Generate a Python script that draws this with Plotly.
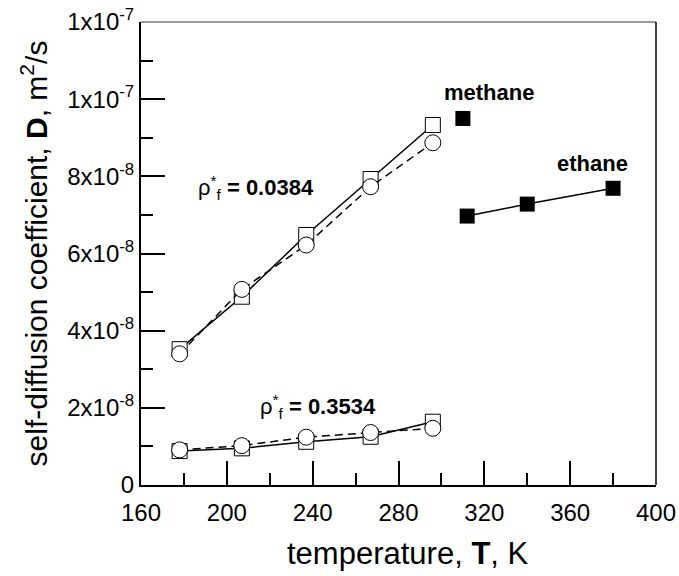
import plotly.graph_objects as go

# ---- data ----
T_fluid = [178, 207, 237, 267, 296]
D_square_0384 = [3.52e-8, 4.88e-8, 6.48e-8, 7.93e-8, 9.33e-8]
D_circle_0384 = [3.40e-8, 5.07e-8, 6.22e-8, 7.73e-8, 8.87e-8]
D_square_3534 = [0.88e-8, 0.95e-8, 1.12e-8, 1.25e-8, 1.64e-8]
D_circle_3534 = [0.91e-8, 1.02e-8, 1.24e-8, 1.36e-8, 1.47e-8]
T_methane = [310]
D_methane = [9.50e-8]
T_ethane = [312, 340, 380]
D_ethane = [6.97e-8, 7.28e-8, 7.69e-8]

x_tick_vals = [160, 200, 240, 280, 320, 360, 400]
y_tick_vals = [0, 2e-8, 4e-8, 6e-8, 8e-8, 1e-7, 1.2e-7]
y_tick_text = ["0", "2x10<sup>-8</sup>", "4x10<sup>-8</sup>", "6x10<sup>-8</sup>",
               "8x10<sup>-8</sup>", "1x10<sup>-7</sup>", "1x10<sup>-7</sup>"]

FONT = "Liberation Sans, Arial, sans-serif"

fig = go.Figure()

def open_series(x, y, symbol, dash, size):
    fig.add_trace(go.Scatter(
        x=x, y=y, mode="lines+markers",
        line=dict(color="black", width=1.5, dash=dash),
        marker=dict(symbol=symbol, size=size, color="white",
                    line=dict(color="black", width=1)),
        showlegend=False, cliponaxis=False))

open_series(T_fluid, D_square_0384, "square", "solid", 15)
open_series(T_fluid, D_square_3534, "square", "solid", 15)
open_series(T_fluid, D_circle_0384, "circle", "8px,5px", 16)
open_series(T_fluid, D_circle_3534, "circle", "8px,5px", 16)

fig.add_trace(go.Scatter(
    x=T_methane, y=D_methane, mode="markers",
    marker=dict(symbol="square", size=15, color="black"),
    showlegend=False))
fig.add_trace(go.Scatter(
    x=T_ethane, y=D_ethane, mode="lines+markers",
    line=dict(color="black", width=1.5),
    marker=dict(symbol="square", size=15, color="black"),
    showlegend=False))

ann_font = dict(family=FONT, size=22, color="black")
annotations = [
    dict(x=213.5, y=7.70e-8, text="ρ<sup>*</sup><sub>f</sub> <b>= 0.0384</b>"),
    dict(x=242.5, y=2.03e-8, text="ρ<sup>*</sup><sub>f</sub> <b>= 0.3534</b>"),
    dict(x=322, y=1.017e-7, text="<b>methane</b>"),
    dict(x=370.5, y=8.34e-8, text="<b>ethane</b>"),
]
for a in annotations:
    a.update(xref="x", yref="y", showarrow=False, font=ann_font,
             xanchor="center", yanchor="middle")

# x-axis title (slightly right of centre, as in the reference)
annotations.append(dict(
    xref="paper", yref="paper", x=0.518, y=0, yshift=-68,
    xanchor="center", yanchor="middle", showarrow=False,
    text="temperature, <b>T</b>, K", font=dict(size=31, family=FONT, color="black")))

fig.update_layout(
    width=679, height=576,
    margin=dict(l=141, r=23, t=22, b=91),
    paper_bgcolor="white", plot_bgcolor="white",
    font=dict(family=FONT, color="black"),
    annotations=annotations,
    shapes=[
        dict(type="line", xref="paper", yref="paper", x0=0, x1=1, y0=1, y1=1,
             line=dict(color="#777777", width=1.5)),
        dict(type="line", xref="paper", yref="paper", x0=1, x1=1, y0=0, y1=1,
             line=dict(color="black", width=1.5)),
    ],
)

fig.update_xaxes(
    range=[160, 400], tickmode="array", tickvals=x_tick_vals,
    ticks="inside", ticklen=24, tickwidth=1.5, tickcolor="black",
    showline=True, linecolor="black", linewidth=2, showgrid=False, zeroline=False,
    tickfont=dict(size=24, family=FONT), automargin=False, ticklabelstandoff=5,
    minor=dict(tickmode="linear", tick0=160, dtick=20, ticks="inside",
               ticklen=12, tickwidth=1.5, tickcolor="black", showgrid=False),
)
fig.update_yaxes(
    range=[0, 1.2e-7], tickmode="array", tickvals=y_tick_vals, ticktext=y_tick_text,
    ticks="inside", ticklen=24, tickwidth=1.5, tickcolor="black",
    showline=True, linecolor="black", linewidth=2, showgrid=False, zeroline=False,
    tickfont=dict(size=24, family=FONT), automargin=False,
    minor=dict(tickmode="linear", tick0=0, dtick=1e-8, ticks="inside",
               ticklen=12, tickwidth=1.5, tickcolor="black", showgrid=False),
    title=dict(text="self-diffusion coefficient, <b>D</b>, m<sup>2</sup>/s",
               font=dict(size=30, family=FONT), standoff=11),
)

fig.write_html("out.html", config={"displayModeBar": False},
               post_script="document.body.style.margin='0';document.body.style.overflow='hidden';")
